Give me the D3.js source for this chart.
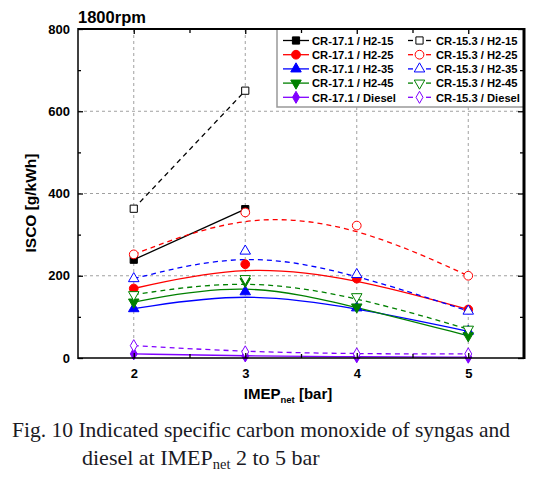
<!DOCTYPE html>
<html>
<head>
<meta charset="utf-8">
<script src="https://cdn.jsdelivr.net/npm/d3@7/dist/d3.min.js"></script>
<style>
  html, body { margin: 0; padding: 0; background: #fff; }
  svg { display: block; }
</style>
</head>
<body>
<svg id="chart" width="547" height="479"></svg>
<script>
// ---- data ----
const imep = [2, 3, 4, 5];
const xTicks = [2, 3, 4, 5];
const yTicks = [0, 200, 400, 600, 800];
const cr171_h2_15 = [239, 362];
const cr153_h2_15 = [363, 650];
const cr171_h2_25 = [169, 228, 193, 118];
const cr153_h2_25 = [252, 354, 322, 200];
const cr171_h2_35 = [120, 161, 122, 65];
const cr153_h2_35 = [193, 260, 203, 114];
const cr171_h2_45 = [136, 186, 124, 54];
const cr153_h2_45 = [154, 193, 149, 70];
const cr171_diesel = [10, 5, 3, 2];
const cr153_diesel = [30, 15, 10, 10];

const seriesNames = [
  "CR-17.1 / H2-15", "CR-17.1 / H2-25", "CR-17.1 / H2-35", "CR-17.1 / H2-45", "CR-17.1 / Diesel",
  "CR-15.3 / H2-15", "CR-15.3 / H2-25", "CR-15.3 / H2-35", "CR-15.3 / H2-45", "CR-15.3 / Diesel"
];
const seriesValues = [
  cr171_h2_15, cr171_h2_25, cr171_h2_35, cr171_h2_45, cr171_diesel,
  cr153_h2_15, cr153_h2_25, cr153_h2_35, cr153_h2_45, cr153_diesel
];
const colors = ["#000000", "#ff0000", "#0000ff", "#008000", "#8000ff"];
const symbols = [d3.symbolSquare, d3.symbolCircle, d3.symbolTriangle, "down", d3.symbolDiamond];

const series = seriesNames.map((name, i) => ({
  name,
  values: seriesValues[i],
  color: colors[i % 5],
  symbol: symbols[i % 5],
  filled: i < 5,
  col: i < 5 ? 0 : 1,
  row: i % 5
}));

// ---- layout ----
const svg = d3.select("#chart");
const L = 78, R = 524, T = 29, B = 358;
const x = d3.scaleLinear().domain([1.5, 5.5]).range([L, R]);
const y = d3.scaleLinear().domain([0, 800]).range([B, T]);
const font = "'Liberation Sans', Arial, sans-serif";

svg.append("rect").attr("width", 547).attr("height", 479).attr("fill", "#fff");

// gridlines
const grid = svg.append("g").attr("stroke", "#a0a0a0").attr("stroke-width", 1).attr("stroke-dasharray", "3,3");
xTicks.forEach(v => grid.append("line").attr("x1", x(v)).attr("x2", x(v)).attr("y1", T).attr("y2", B));
[200, 400, 600].forEach(v => grid.append("line").attr("x1", L).attr("x2", R).attr("y1", y(v)).attr("y2", y(v)));

// legend box (white, overlays grid)
const legX = 277, legY = 29, legW = 247, legH = 78;
svg.append("rect").attr("x", legX).attr("y", legY).attr("width", legW).attr("height", legH)
  .attr("fill", "#fff").attr("stroke", "#999").attr("stroke-width", 1.5);

// symbol helper
function symPath(sym, size) {
  if (sym === "down") return d3.symbol(d3.symbolTriangle, size)();
  return d3.symbol(sym, size)();
}
function symSize(sym) {
  if (sym === d3.symbolSquare) return 52;
  if (sym === d3.symbolCircle) return 60;
  if (sym === d3.symbolDiamond) return 42;
  return 48;
}
function drawMarker(g, s, cx, cy) {
  g.append("path")
    .attr("d", symPath(s.symbol, symSize(s.symbol)))
    .attr("transform", `translate(${cx},${cy})` + (s.symbol === "down" ? " rotate(180)" : ""))
    .attr("fill", s.filled ? s.color : "#fff")
    .attr("stroke", s.color)
    .attr("stroke-width", 1);
}

// lines (B-spline smoothing)
const line = d3.line().x(d => x(d[0])).y(d => y(d[1])).curve(d3.curveBasis);
const plot = svg.append("g");
series.forEach(s => {
  const pts = s.values.map((v, j) => [imep[j], v]);
  plot.append("path").attr("d", line(pts))
    .attr("fill", "none").attr("stroke", s.color).attr("stroke-width", 1.3)
    .attr("stroke-dasharray", s.filled ? null : "5,4");
});
// markers
series.forEach(s => {
  s.values.forEach((v, j) => drawMarker(plot, s, x(imep[j]), y(v)));
});

// axes (ticks inward)
const axes = svg.append("g");
axes.append("g").attr("transform", `translate(${L},0)`)
  .call(d3.axisLeft(y).tickValues(yTicks).tickSize(-5).tickPadding(8).tickFormat(d3.format("d")));
axes.append("g").attr("transform", `translate(${L},0)`)
  .call(d3.axisLeft(y).tickValues([100, 300, 500, 700]).tickSize(-3).tickFormat(""));
axes.append("g").attr("transform", `translate(${R},0)`)
  .call(d3.axisRight(y).tickValues(yTicks).tickSize(-6).tickFormat(""));
axes.append("g").attr("transform", `translate(${R},0)`)
  .call(d3.axisRight(y).tickValues([100, 300, 500, 700]).tickSize(-4).tickFormat(""));
axes.append("g").attr("transform", `translate(0,${B})`)
  .call(d3.axisBottom(x).tickValues(xTicks).tickSize(-5).tickPadding(11).tickFormat(d3.format("d")));
axes.append("g").attr("transform", `translate(0,${B})`)
  .call(d3.axisBottom(x).tickValues([2.5, 3.5, 4.5]).tickSize(-4).tickFormat(""));
axes.append("g").attr("transform", `translate(0,${T})`)
  .call(d3.axisTop(x).tickValues(xTicks).tickSize(-5).tickFormat(""));
axes.append("g").attr("transform", `translate(0,${T})`)
  .call(d3.axisTop(x).tickValues([2.5, 3.5, 4.5]).tickSize(-4).tickFormat(""));
axes.selectAll(".domain").remove();
axes.selectAll(".tick line").attr("stroke", "#000").attr("stroke-width", 1.3);
axes.selectAll(".tick text").attr("font-family", font).attr("font-weight", "bold")
  .attr("font-size", 13).attr("fill", "#000");

// frame
svg.append("line").attr("x1", L).attr("x2", L).attr("y1", T - 1).attr("y2", B + 1).attr("stroke", "#000").attr("stroke-width", 1.5);
svg.append("line").attr("x1", L).attr("x2", R).attr("y1", B).attr("y2", B).attr("stroke", "#000").attr("stroke-width", 1.5);
svg.append("line").attr("x1", L).attr("x2", R).attr("y1", T).attr("y2", T).attr("stroke", "#000").attr("stroke-width", 2);
svg.append("line").attr("x1", R).attr("x2", R).attr("y1", T - 1).attr("y2", B + 1).attr("stroke", "#000").attr("stroke-width", 3);

// legend entries
const leg = svg.append("g");
const rowY0 = 40.5, rowStep = 14.2;
const colDef = [
  { x1: 283, x2: 309, mx: 296, tx: 312 },
  { x1: 408, x2: 431, mx: 419.5, tx: 436 }
];
series.forEach(s => {
  const c = colDef[s.col];
  const yy = rowY0 + s.row * rowStep;
  if (s.filled) {
    leg.append("line").attr("x1", c.x1).attr("x2", c.x2).attr("y1", yy).attr("y2", yy)
      .attr("stroke", s.color).attr("stroke-width", 1.3);
  } else {
    leg.append("line").attr("x1", c.x1).attr("x2", c.x1 + 5).attr("y1", yy).attr("y2", yy)
      .attr("stroke", s.color).attr("stroke-width", 1.3);
    leg.append("line").attr("x1", c.x2 - 5).attr("x2", c.x2).attr("y1", yy).attr("y2", yy)
      .attr("stroke", s.color).attr("stroke-width", 1.3);
  }
  drawMarker(leg, s, c.mx, yy);
  leg.append("text").attr("x", c.tx).attr("y", yy + 4.2)
    .attr("font-family", font).attr("font-weight", "bold").attr("font-size", 11.2)
    .attr("fill", "#000").text(s.name);
});

// titles
svg.append("text").attr("x", 78).attr("y", 23).attr("font-family", font).attr("font-weight", "bold")
  .attr("font-size", 16.5).attr("fill", "#000").text("1800rpm");

svg.append("text").attr("transform", "translate(36,203) rotate(-90)").attr("text-anchor", "middle")
  .attr("font-family", font).attr("font-weight", "bold").attr("font-size", 15.5).attr("fill", "#000")
  .text("ISCO [g/kWh]");

const xt = svg.append("text").attr("x", 288).attr("y", 399).attr("text-anchor", "middle")
  .attr("font-family", font).attr("font-weight", "bold").attr("font-size", 15).attr("fill", "#000");
xt.append("tspan").text("IMEP");
xt.append("tspan").attr("font-size", 9.5).attr("dy", 4).text("net");
xt.append("tspan").attr("dy", -4).text(" [bar]");

// caption
const serif = "'Liberation Serif', 'Times New Roman', serif";
svg.append("text").attr("x", 12).attr("y", 437).attr("font-family", serif).attr("font-size", 21.5)
  .attr("fill", "#1a1a24").attr("textLength", 498).attr("lengthAdjust", "spacing")
  .text("Fig. 10 Indicated specific carbon monoxide of syngas and");
const c2 = svg.append("text").attr("x", 82).attr("y", 465).attr("font-family", serif).attr("font-size", 22)
  .attr("fill", "#1a1a24");
c2.append("tspan").text("diesel at IMEP");
c2.append("tspan").attr("font-size", 14.5).attr("dy", 4).text("net");
c2.append("tspan").attr("dy", -4).text(" 2 to 5 bar");
</script>
</body>
</html>
